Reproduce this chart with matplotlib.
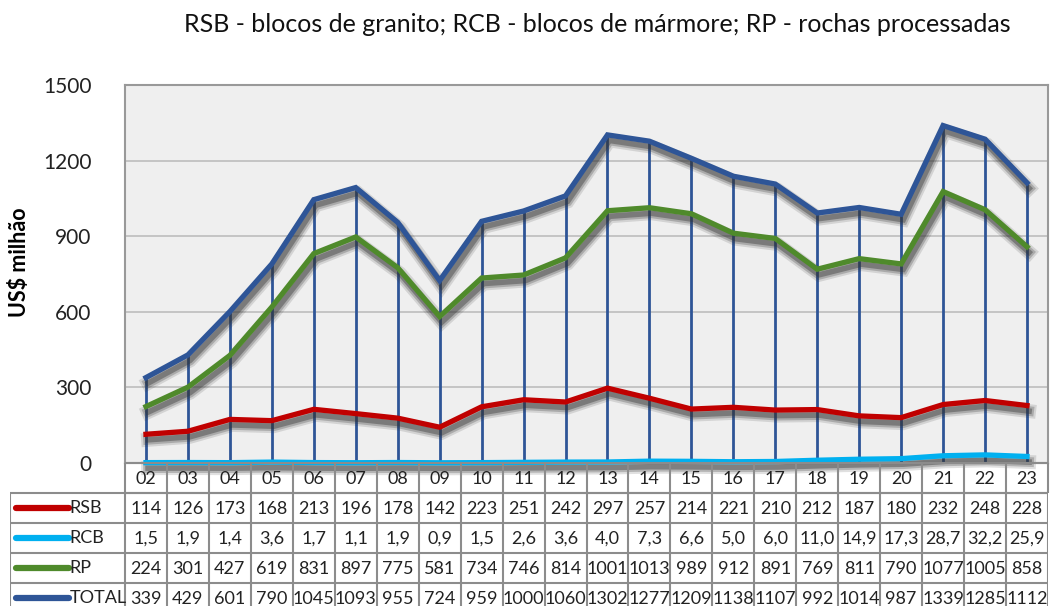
import numpy as np
import matplotlib.pyplot as plt
import matplotlib.patheffects as pe

plt.rcParams['font.family'] = ['Lato', 'DejaVu Sans']

# dados (US$ milhão)
anos = ['02', '03', '04', '05', '06', '07', '08', '09', '10', '11', '12',
        '13', '14', '15', '16', '17', '18', '19', '20', '21', '22', '23']
rsb = [114, 126, 173, 168, 213, 196, 178, 142, 223, 251, 242,
       297, 257, 214, 221, 210, 212, 187, 180, 232, 248, 228]
rcb = [1.5, 1.9, 1.4, 3.6, 1.7, 1.1, 1.9, 0.9, 1.5, 2.6, 3.6,
       4.0, 7.3, 6.6, 5.0, 6.0, 11.0, 14.9, 17.3, 28.7, 32.2, 25.9]
rp = [224, 301, 427, 619, 831, 897, 775, 581, 734, 746, 814,
      1001, 1013, 989, 912, 891, 769, 811, 790, 1077, 1005, 858]
total = [339, 429, 601, 790, 1045, 1093, 955, 724, 959, 1000, 1060,
         1302, 1277, 1209, 1138, 1107, 992, 1014, 987, 1339, 1285, 1112]

series = [('RSB', rsb, '#C00000'), ('RCB', rcb, '#00B0F0'),
          ('RP', rp, '#4F8A2B'), ('TOTAL', total, '#2E5597')]

W, H = 1051, 606
fig = plt.figure(figsize=(W / 100, H / 100), dpi=100)

x = np.arange(len(anos))
ax = fig.add_axes([125 / W, 1 - 463 / H, 923 / W, 378 / H])
ax.set_facecolor('#EFEFEF')
ax.set_xlim(-0.5, len(anos) - 0.5)
ax.set_ylim(0, 1500)
ax.set_yticks([0, 300, 600, 900, 1200, 1500])
ax.tick_params(axis='y', length=0, pad=24, labelsize=15, colors='#222222')
ax.set_xticks([])
ax.grid(axis='y', color='#BDBDBD', lw=1.2)
ax.set_axisbelow(True)
for s in ax.spines.values():
    s.set_color('#999999')
    s.set_linewidth(1.5)
ax.set_ylabel('US$ milhão', fontsize=15.5, fontweight='bold')
ax.yaxis.set_label_coords(-0.103, 0.53)

# linhas verticais
ax.vlines(x, 0, total, color='#2E5597', lw=2, zorder=2)

# sombra difusa
shadow = [pe.SimpleLineShadow(offset=(1.5, -4), shadow_color='#333333', alpha=0.15, rho=1, linewidth=10),
          pe.SimpleLineShadow(offset=(1.5, -4), shadow_color='#333333', alpha=0.25, rho=1, linewidth=7),
          pe.SimpleLineShadow(offset=(1.5, -4), shadow_color='#333333', alpha=0.4, rho=1, linewidth=4),
          pe.Normal()]
for nome, vals, cor in series:
    ax.plot(x, vals, color=cor, lw=3.8, solid_joinstyle='miter',
            path_effects=shadow, zorder=3, clip_on=False)

fig.text(597 / W, 1 - 25 / H,
         'RSB - blocos de granito; RCB - blocos de mármore; RP - rochas processadas',
         ha='center', va='center', fontsize=18, color='#111111')

# tabela
left_cols = 115 / (923 / len(anos))
tab_h = H - 463
tab = fig.add_axes([10 / W, 0, 1038 / W, tab_h / H])
tab.set_xlim(-0.5 - left_cols, len(anos) - 0.5)
row_h = 30
tab.set_ylim(tab_h, 0)  # pixels a partir do topo da tabela
tab.axis('off')

gc = '#8C8C8C'
# linha dos anos
tab.hlines([0, row_h], -0.5, len(anos) - 0.5, color=gc, lw=1.5, clip_on=False)
tab.vlines(np.arange(-0.5, len(anos)), 0, row_h, color=gc, lw=1.5, clip_on=False)
for i, a in enumerate(anos):
    tab.text(i, row_h / 2 + 1, a, ha='center', va='center', fontsize=13, color='#222222')

nrows = len(series)
ys = row_h * (1 + np.arange(nrows + 1))
tab.hlines(ys, -0.5 - left_cols, len(anos) - 0.5, color=gc, lw=1.5)
tab.vlines(np.concatenate([[-0.5 - left_cols + 0.01], np.arange(-0.5, len(anos))]),
           row_h, row_h * (nrows + 2), color=gc, lw=1.5)

for r, (nome, vals, cor) in enumerate(series):
    yc = row_h * (r + 1.5)
    tab.plot([-0.5 - left_cols + 0.15, -0.5 - left_cols + 1.4], [yc, yc],
             color=cor, lw=4.5, solid_capstyle='round')
    tab.text(-0.5 - left_cols + 1.42, yc, nome, ha='left', va='center',
             fontsize=13, color='#222222')
    for i, v in enumerate(vals):
        if nome == 'RCB':
            txt = f'{v:.1f}'.replace('.', ',')
        else:
            txt = str(v)
        tab.text(i, yc + 1, txt, ha='center', va='center', fontsize=13, color='#222222')

fig.savefig('out.png', dpi=100)
